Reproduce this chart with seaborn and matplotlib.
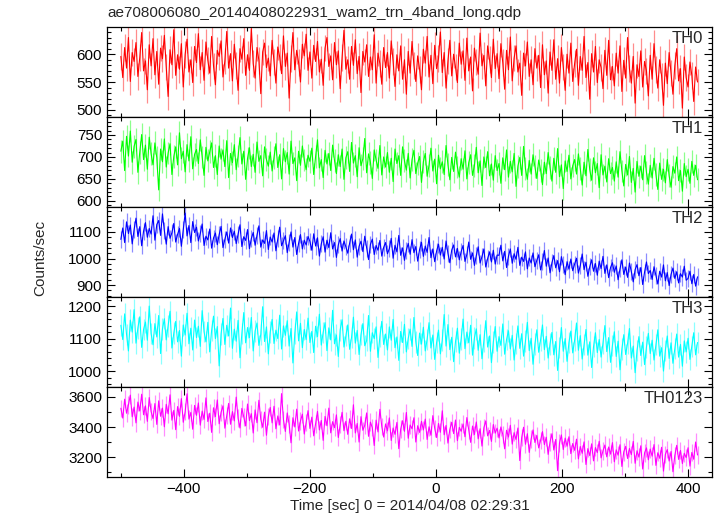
import numpy as np
import pandas as pd
import matplotlib
matplotlib.use("Agg")
import matplotlib.pyplot as plt
import seaborn as sns
from matplotlib.ticker import MultipleLocator

title = "ae708006080_20140408022931_wam2_trn_4band_long.qdp"
xlabel = "Time [sec] 0 = 2014/04/08 02:29:31"
ylabel = "Counts/sec"
t_start = -500
t_step = 3

th0 = [596, 558, 612, 575, 630, 551, 603, 587, 621, 560, 594, 639, 570, 588, 536, 617, 579, 628, 563, 605,
       546, 611, 592, 634, 577, 524, 608, 581, 644, 562, 599, 573, 619, 541, 600, 627, 568, 590, 549, 614,
       585, 637, 572, 603, 553, 622, 589, 566, 632, 579, 545, 607, 596, 624, 559, 588, 641, 575, 601, 552,
       618, 580, 535, 610, 591, 628, 562, 599, 571, 646, 583, 557, 612, 589, 529, 604, 620, 576, 593, 561,
       625, 586, 548, 613, 595, 565, 633, 578, 602, 521, 592, 639, 572, 607, 585, 550, 618, 597, 636, 571,
       604, 557, 616, 587, 623, 568, 591, 544, 611, 630, 578, 597, 554, 621, 581, 606, 538, 594, 643, 573,
       590, 555, 614, 580, 626, 565, 596, 531, 605, 586, 617, 560, 595, 572, 635, 548, 602, 583, 546, 612,
       576, 603, 557, 624, 587, 542, 599, 570, 615, 555, 590, 528, 605, 566, 623, 580, 551, 597, 573, 536,
       609, 584, 632, 559, 598, 547, 616, 574, 592, 640, 567, 603, 539, 588, 625, 561, 600, 577, 549, 620,
       582, 606, 553, 629, 570, 595, 534, 611, 586, 564, 638, 579, 598, 543, 615, 590, 558, 627, 574, 601,
       556, 619, 585, 537, 607, 572, 631, 552, 593, 615, 568, 584, 526, 602, 579, 622, 560, 590, 545, 610,
       575, 598, 540, 617, 563, 588, 530, 604, 571, 626, 555, 592, 548, 612, 577, 535, 600, 566, 620, 551,
       583, 609, 544, 596, 571, 632, 558, 585, 519, 601, 568, 614, 549, 590, 576, 538, 607, 562, 625, 554,
       578, 543, 602, 566, 615, 533, 589, 557, 630, 574, 548, 596, 512, 581, 560, 606, 541, 587, 570, 525,
       598, 555, 619, 572, 539, 590, 561, 508, 584, 547, 603, 566, 528, 580, 610, 552, 574, 503, 595, 558,
       541, 586, 562, 515, 577, 550]

th1 = [713, 736, 669, 747, 702, 759, 688, 724, 740, 665, 711, 751, 694, 727, 672, 745, 707, 682, 732, 698,
       625, 718, 689, 741, 677, 709, 730, 660, 701, 723, 682, 755, 696, 713, 666, 728, 691, 746, 673, 706,
       717, 685, 739, 700, 658, 722, 691, 712, 732, 676, 703, 660, 725, 695, 716, 678, 737, 653, 708, 687,
       728, 671, 702, 744, 684, 713, 649, 697, 721, 678, 706, 665, 734, 690, 703, 657, 723, 694, 679, 711,
       668, 699, 730, 676, 705, 650, 719, 689, 710, 661, 736, 685, 698, 646, 713, 681, 725, 693, 671, 704,
       690, 720, 660, 701, 739, 675, 694, 653, 715, 684, 708, 669, 727, 692, 662, 705, 678, 718, 649, 698,
       712, 667, 733, 686, 703, 655, 721, 680, 696, 742, 664, 707, 688, 651, 716, 693, 674, 726, 659, 700,
       677, 710, 665, 697, 644, 718, 685, 703, 658, 723, 691, 670, 708, 652, 694, 715, 662, 686, 701, 642,
       689, 708, 656, 681, 720, 668, 695, 639, 704, 673, 689, 660, 726, 682, 648, 699, 667, 711, 677, 654,
       696, 672, 714, 650, 687, 705, 658, 680, 722, 664, 691, 635, 700, 676, 712, 657, 684, 647, 703, 669,
       685, 640, 698, 671, 716, 654, 690, 666, 708, 633, 679, 699, 658, 724, 673, 649, 692, 661, 705, 678,
       651, 693, 670, 637, 688, 662, 710, 676, 645, 697, 665, 719, 655, 682, 628, 691, 667, 704, 650, 680,
       694, 661, 707, 673, 636, 688, 657, 717, 671, 647, 698, 664, 685, 630, 705, 659, 679, 643, 696, 662,
       676, 645, 689, 654, 712, 668, 634, 683, 659, 701, 642, 674, 620, 690, 656, 679, 648, 703, 665, 638,
       681, 652, 697, 660, 626, 686, 649, 672, 641, 694, 657, 631, 678, 663, 700, 646, 669, 622, 685, 655,
       672, 640, 690, 658, 681, 648]

th2 = [1072, 1115, 1060, 1138, 1094, 1126, 1055, 1109, 1152, 1083, 1120, 1048, 1103, 1135, 1080, 1113, 1092, 1161, 1069, 1128,
       1143, 1087, 1168, 1105, 1054, 1120, 1076, 1097, 1132, 1062, 1091, 1113, 1046, 1108, 1171, 1085, 1124, 1060, 1139, 1098,
       1118, 1066, 1094, 1130, 1049, 1084, 1070, 1111, 1039, 1077, 1096, 1052, 1090, 1121, 1041, 1072, 1100, 1058, 1115, 1079,
       1103, 1056, 1092, 1127, 1045, 1082, 1068, 1109, 1037, 1075, 1098, 1050, 1088, 1123, 1043, 1070, 1057, 1105, 1034, 1081,
       1062, 1096, 1029, 1074, 1118, 1048, 1066, 1086, 1022, 1061, 1100, 1043, 1079, 1015, 1057, 1090, 1036, 1069, 1051, 1083,
       1064, 1031, 1093, 1047, 1078, 1009, 1055, 1082, 1024, 1069, 1041, 1097, 1036, 1060, 1004, 1051, 1075, 1028, 1066, 1044,
       1020, 1058, 1092, 1033, 1070, 1005, 1046, 1065, 1026, 1084, 1039, 996, 1053, 1073, 1015, 1049, 1031, 1068, 1009, 1042,
       1060, 1018, 1037, 1076, 1001, 1050, 1025, 1087, 1012, 1040, 993, 1031, 1057, 1016, 1071, 1022, 1045, 990, 1034, 1061,
       1008, 1047, 1023, 1079, 1003, 1036, 988, 1028, 1054, 1013, 1042, 998, 1066, 1019, 984, 1032, 1051, 1006, 1038, 995,
       1026, 1049, 989, 1015, 1062, 997, 1021, 974, 1011, 1044, 983, 1007, 1036, 968, 1000, 1025, 987, 1031, 979, 1013,
       1012, 1050, 991, 1027, 966, 1008, 1036, 982, 1018, 997, 1042, 974, 1005, 989, 1025, 961, 1002, 983, 1021, 969,
       993, 1014, 957, 988, 1030, 971, 1002, 946, 984, 1011, 965, 992, 950, 1007, 977, 939, 988, 960, 998, 954,
       979, 1001, 945, 973, 1017, 958, 986, 933, 969, 995, 952, 981, 937, 990, 962, 1008, 944, 976, 928, 966,
       984, 948, 972, 920, 961, 995, 940, 968, 929, 983, 951, 912, 958, 977, 935, 966, 902, 949, 987, 943,
       955, 921, 969, 937, 904, 952, 930, 976, 916, 947, 898, 940, 964, 925, 950, 908, 943, 930, 971, 918,
       925, 952, 905, 940, 896, 931]

th3 = [1141, 1097, 1176, 1113, 1062, 1157, 1120, 1189, 1086, 1133, 1167, 1073, 1128, 1151, 1095, 1200, 1115, 1081, 1146, 1105,
       1171, 1054, 1130, 1161, 1096, 1139, 1184, 1071, 1117, 1153, 1090, 1125, 1046, 1142, 1111, 1178, 1084, 1132, 1065, 1157,
       1103, 1138, 1076, 1186, 1121, 1090, 1150, 1059, 1125, 1169, 1100, 1137, 1016, 1114, 1162, 1082, 1141, 1108, 1194, 1070,
       1129, 1092, 1156, 1041, 1116, 1180, 1087, 1134, 1103, 1165, 1062, 1123, 1148, 1079, 1113, 1198, 1091, 1136, 1053, 1120,
       1159, 1085, 1126, 1100, 1172, 1068, 1139, 1110, 1155, 1077, 1131, 1025, 1116, 1182, 1093, 1147, 1072, 1128, 1097, 1163,
       1088, 1122, 1057, 1138, 1106, 1175, 1080, 1119, 1149, 1063, 1133, 1096, 1187, 1084, 1111, 1045, 1127, 1158, 1074, 1109,
       1142, 1067, 1103, 1166, 1086, 1125, 1051, 1112, 1146, 1078, 1094, 1171, 1061, 1118, 1100, 1136, 1042, 1107, 1153, 1082,
       1114, 1065, 1136, 1095, 1159, 1072, 1105, 1033, 1122, 1088, 1144, 1059, 1101, 1129, 1076, 1165, 1090, 1048, 1117, 1083,
       1135, 1062, 1098, 1149, 1071, 1111, 1036, 1088, 1126, 1053, 1095, 1174, 1077, 1143, 1066, 1104, 1029, 1091, 1132, 1055,
       1099, 1160, 1069, 1120, 1087, 1141, 1049, 1102, 1130, 1064, 1112, 1038, 1093, 1155, 1074, 1108, 1026, 1089, 1137, 1061,
       1106, 1079, 1145, 1052, 1097, 1124, 1068, 1110, 1034, 1085, 1139, 1070, 1115, 1046, 1092, 1150, 1063, 1101, 1021, 1083,
       1127, 1058, 1096, 1142, 1066, 1107, 1040, 1084, 1119, 1050, 1091, 1002, 1073, 1134, 1061, 1100, 1030, 1088, 1123, 1056,
       1095, 1148, 1064, 1109, 1037, 1081, 1128, 1049, 1090, 1011, 1075, 1118, 1057, 1097, 1043, 1086, 1140, 1060, 1103, 1027,
       1079, 1121, 1045, 1092, 1004, 1068, 1112, 1051, 1085, 1131, 1040, 1077, 995, 1063, 1106, 1048, 1089, 1020, 1074, 1116,
       1054, 1095, 1034, 1081, 1127, 1046, 1072, 1000, 1064, 1108, 1039, 1087, 1024, 1070, 1114, 1043, 1082, 1015, 1093, 1059,
       1101, 1036, 1076, 1118, 1050, 1088]

th0123 = [3525, 3460, 3585, 3492, 3548, 3612, 3468, 3533, 3428, 3566, 3507, 3618, 3482, 3541, 3438, 3596, 3503, 3457, 3556, 3418,
          3574, 3472, 3526, 3402, 3551, 3488, 3614, 3446, 3511, 3383, 3536, 3471, 3589, 3432, 3502, 3621, 3453, 3497, 3386, 3544,
          3478, 3560, 3413, 3506, 3451, 3594, 3437, 3492, 3365, 3528, 3470, 3580, 3422, 3498, 3541, 3393, 3476, 3557, 3419, 3503,
          3441, 3599, 3459, 3394, 3524, 3468, 3408, 3553, 3443, 3489, 3361, 3514, 3429, 3578, 3452, 3399, 3499, 3346, 3471, 3530,
          3428, 3538, 3389, 3474, 3414, 3622, 3449, 3371, 3494, 3419, 3296, 3462, 3401, 3519, 3374, 3441, 3486, 3354, 3431, 3509,
          3391, 3466, 3342, 3421, 3504, 3381, 3444, 3312, 3471, 3409, 3526, 3362, 3436, 3396, 3481, 3331, 3416, 3498, 3376, 3439,
          3352, 3455, 3391, 3548, 3361, 3424, 3301, 3469, 3379, 3412, 3494, 3339, 3433, 3396, 3278, 3446, 3368, 3518, 3404, 3334,
          3421, 3375, 3461, 3311, 3394, 3352, 3431, 3257, 3386, 3442, 3372, 3497, 3326, 3414, 3389, 3462, 3301, 3409, 3365, 3438,
          3381, 3453, 3318, 3402, 3346, 3476, 3392, 3331, 3424, 3366, 3508, 3349, 3411, 3294, 3385, 3432, 3357, 3447, 3310, 3398,
          3372, 3421, 3336, 3463, 3381, 3299, 3407, 3351, 3434, 3322, 3389, 3274, 3396, 3441, 3342, 3378, 3305, 3417, 3360, 3393,
          3328, 3401, 3351, 3256, 3379, 3334, 3412, 3287, 3363, 3318, 3394, 3178, 3331, 3399, 3286, 3356, 3232, 3321, 3381, 3298,
          3345, 3262, 3312, 3370, 3284, 3333, 3219, 3301, 3356, 3248, 3318, 3111, 3294, 3348, 3251, 3327, 3273, 3336, 3224, 3291,
          3246, 3320, 3189, 3271, 3226, 3302, 3152, 3257, 3211, 3289, 3176, 3264, 3231, 3306, 3196, 3242, 3281, 3203, 3268, 3221,
          3297, 3170, 3249, 3214, 3283, 3139, 3236, 3272, 3192, 3258, 3217, 3305, 3160, 3243, 3201, 3276, 3122, 3229, 3262, 3183,
          3254, 3207, 3284, 3146, 3230, 3193, 3266, 3108, 3219, 3251, 3175, 3238, 3104, 3212, 3279, 3186, 3245, 3158, 3226, 3198,
          3263, 3141, 3232, 3187, 3301, 3215]

# typical 1-sigma error bar half-length read from the light shading of each band
errs = [24, 26, 32, 33, 58]

names = ["TH0", "TH1", "TH2", "TH3", "TH0123"]
series = [th0, th1, th2, th3, th0123]
colors = ["#ff0000", "#00ff00", "#0000ff", "#00ffff", "#ff00ff"]
ylims = [(487, 649), (586, 791), (855, 1194), (951, 1228), (3069, 3666)]
ymajor = [50, 50, 100, 100, 200]
yminor = [10, 10, 20, 20, 100]

sns.set_style("ticks")
plt.rcParams["font.family"] = ["Liberation Sans", "DejaVu Sans"]

fig = plt.figure(figsize=(7.17, 5.16), dpi=100)
gs = fig.add_gridspec(5, 1, left=107/717, right=712/717, top=1-27/516, bottom=1-477/516, hspace=0)
axes = [fig.add_subplot(gs[i]) for i in range(5)]

for i, ax in enumerate(axes):
    vals = series[i]
    df = pd.DataFrame({"t": t_start + t_step * np.arange(len(vals)), "v": vals})
    ax.errorbar(df["t"], df["v"], yerr=errs[i], fmt="none", ecolor=colors[i],
                alpha=0.45, elinewidth=0.9, capsize=0, zorder=1)
    sns.lineplot(data=df, x="t", y="v", color=colors[i], linewidth=0.8, ax=ax, zorder=2)
    ax.set_xlim(-522, 438)
    ax.set_ylim(*ylims[i])
    ax.xaxis.set_major_locator(MultipleLocator(200))
    ax.xaxis.set_minor_locator(MultipleLocator(100))
    ax.yaxis.set_major_locator(MultipleLocator(ymajor[i]))
    ax.yaxis.set_minor_locator(MultipleLocator(yminor[i]))
    ax.tick_params(which="both", direction="in", top=True, right=True, labelsize=11, colors="black")
    ax.tick_params(which="major", length=6, width=0.8)
    ax.tick_params(which="minor", length=3, width=0.8)
    ax.set_xlabel("")
    ax.set_ylabel("")
    for s in ax.spines.values():
        s.set_linewidth(0.9)
        s.set_color("black")
        s.set_zorder(5)
    ax.text(0.985, 0.955, names[i], transform=ax.transAxes, ha="right", va="top", fontsize=12, zorder=6)
    if i < 4:
        ax.tick_params(labelbottom=False)

axes[-1].set_xlabel(xlabel, fontsize=11, labelpad=2)
fig.text(107/717, 1 - 13/516, title, ha="left", va="center", fontsize=11)
fig.text(40/717, 0.5, ylabel, rotation=90, ha="center", va="center", fontsize=11)

fig.savefig("out.png", dpi=100)
